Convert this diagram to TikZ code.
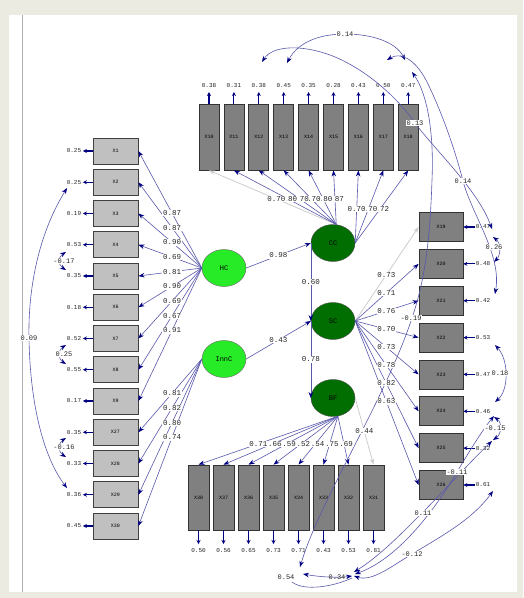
\documentclass[tikz,border=0pt]{standalone}
\usepackage{fontspec}
\setmonofont{Liberation Mono}
\usetikzlibrary{arrows.meta,shapes.geometric,calc}
\definecolor{bgbeige}{RGB}{236,235,226}
\definecolor{pathblue}{RGB}{88,88,172}
\definecolor{tipnavy}{RGB}{0,0,130}
\definecolor{ltbox}{RGB}{192,192,192}
\definecolor{dkbox}{RGB}{128,128,128}
\definecolor{ltgreen}{RGB}{40,235,40}
\definecolor{dkgreen}{RGB}{0,110,0}
\definecolor{fadeline}{RGB}{205,205,205}
\definecolor{framegrey}{RGB}{175,175,175}
\tikzset{
  tipA/.tip={Stealth[length=6pt,width=4.5pt,color=tipnavy]},
  tipG/.tip={Stealth[length=6pt,width=4.5pt,color=fadeline]},
}
\begin{document}
\begin{tikzpicture}[x=1pt,y=-1pt,
  lbox/.style={draw=black!75,fill=ltbox,line width=0.8pt,minimum width=45pt,minimum height=26pt,inner sep=0pt,font=\ttfamily\fontsize{5}{5}\selectfont},
  tbox/.style={draw=black!80,fill=dkbox,line width=0.8pt,minimum width=20pt,minimum height=66pt,inner sep=0pt,font=\ttfamily\fontsize{5}{5}\selectfont},
  rbox/.style={draw=black!80,fill=dkbox,line width=0.8pt,minimum width=44pt,minimum height=29pt,inner sep=0pt,font=\ttfamily\fontsize{5}{5}\selectfont},
  bbox/.style={draw=black!80,fill=dkbox,line width=0.8pt,minimum width=21pt,minimum height=65pt,inner sep=0pt,font=\ttfamily\fontsize{5}{5}\selectfont},
  exo/.style={ellipse,draw=black!60,fill=ltgreen,minimum width=44pt,minimum height=37pt,inner sep=0pt,font=\ttfamily\fontsize{7}{7}\selectfont},
  endo/.style={ellipse,draw=black!70,fill=dkgreen,minimum width=44pt,minimum height=37pt,inner sep=0pt,font=\ttfamily\fontsize{7}{7}\selectfont},
  load/.style={draw=pathblue,line width=0.6pt,-tipA},
  faint/.style={draw=fadeline,line width=0.8pt,-tipG},
  errarr/.style={draw=tipnavy,line width=1.1pt,-{Stealth[length=4pt,width=4pt,color=tipnavy]}},
  cov/.style={draw=pathblue,line width=0.6pt,tipA-tipA},
  coef/.style={fill=white,inner sep=0.6pt,font=\ttfamily\fontsize{7.5}{7.5}\selectfont,text=black!85},
  covlab/.style={fill=white,inner sep=0.8pt,font=\ttfamily\fontsize{7}{7}\selectfont,text=black!85},
  errlab/.style={inner sep=0pt,font=\ttfamily\fontsize{6}{6}\selectfont,text=black!85},
]
\useasboundingbox (0,0) rectangle (523,598);
\fill[bgbeige] (0,0) rectangle (523,598);
\fill[white] (9,15) rectangle (517,592);
\draw[framegrey,line width=1pt] (22,15) -- (22,592);

% ---------- observed variables ----------
\foreach \n/\y/\e in {1/151/0.25, 2/182.25/0.25, 3/213.5/0.19, 4/244.75/0.53, 5/276/0.35, 6/307.25/0.18, 7/338.5/0.52, 8/369.75/0.55, 9/401/0.17, 27/432.25/0.35, 28/463.5/0.33, 29/494.75/0.36, 30/526/0.45}{
  \node[lbox] (X\n) at (115.5,\y) {X\n};
  \node[errlab] (EL\n) at (74,\y) {\e};
  \draw[errarr] (X\n.west) -- ([xshift=1.5pt]EL\n.east);
}
\foreach \n/\x/\e in {10/209/0.38, 11/233.9/0.31, 12/258.8/0.38, 13/283.7/0.45, 14/308.6/0.35, 15/333.5/0.28, 16/358.4/0.43, 17/383.3/0.50, 18/408.2/0.47}{
  \node[tbox] (X\n) at (\x,137) {X\n};
  \node[errlab] (ET\n) at (\x,86) {\e};
  \draw[errarr] (X\n.north) -- (\x,92);
}
\foreach \n/\y/\e in {19/227/0.47, 20/263.9/0.48, 21/300.7/0.42, 22/337.6/0.53, 23/374.4/0.47, 24/411.3/0.46, 25/448.1/0.32, 26/485/0.61}{
  \node[rbox] (X\n) at (441,\y) {X\n};
  \node[errlab] (ER\n) at (483,\y) {\e};
  \draw[errarr] ([xshift=-1pt]ER\n.west) -- (X\n.east);
}
\foreach \n/\x/\e in {38/198.5/0.50, 37/223.5/0.56, 36/248.5/0.65, 35/273.5/0.73, 34/298.5/0.71, 33/323.5/0.43, 32/348.5/0.53, 31/373.5/0.81}{
  \node[bbox] (X\n) at (\x,497.5) {X\n};
  \node[errlab] (EB\n) at (\x,551) {\e};
  \draw[errarr] (X\n.south) -- (\x,544);
}

% ---------- latent variables ----------
\node[exo] (HC) at (224,268) {HC};
\node[exo] (InnC) at (224,359) {InnC};
\node[endo] (CC) at (333,243) {CC};
\node[endo] (SC) at (333,321) {SC};
\node[endo] (BF) at (333,398) {BF};

% ---------- loadings ----------
\foreach \n in {1,...,9} \draw[load] (HC.west) -- (X\n.east);
\foreach \n in {27,...,30} \draw[load] (InnC.west) -- (X\n.east);
\draw[faint] (CC.80) -- (X10.south);
\foreach \n in {11,...,15} \draw[load] (CC.80) -- (X\n.south);
\foreach \n in {16,17,18} \draw[load] (CC.east) -- (X\n.south);
\draw[faint] (SC.east) -- (X19.west);
\foreach \n in {20,...,26} \draw[load] (SC.east) -- (X\n.west);
\foreach \n in {32,...,38} \draw[load] (BF.285) -- (X\n.north);
\draw[faint] (BF.east) -- (X31.north);

% ---------- structural paths ----------
\draw[load] (HC.east) -- (CC.west);
\draw[load] (InnC.east) -- (SC.west);
\draw[load] (CC.west) -- (SC.west);
\draw[load] (SC.west) -- (BF.west);

% ---------- error covariances ----------
\draw[cov] (67,188) .. controls (38,235) and (28,290) .. (29,338) .. controls (30,400) and (42,455) .. (67,488);
\draw[cov] (66,252) .. controls (58,257) and (58,265) .. (66,270);
\draw[cov] (66,345) .. controls (58,350) and (58,359) .. (66,364);
\draw[cov] (66,438) .. controls (58,443) and (58,452) .. (66,457);

\draw[cov] (287,63) .. controls (298,42) and (320,34) .. (345,34) .. controls (372,34) and (396,42) .. (405,60);
\draw[cov] (262,62) .. controls (272,46) and (300,44) .. (330,55) .. controls (365,68) and (398,98) .. (415,123) .. controls (435,150) and (478,190) .. (492,229);
\draw[cov] (387,60) .. controls (400,52) and (414,58) .. (426,80) .. controls (442,112) and (455,150) .. (463,181) .. controls (472,215) and (502,255) .. (495,294);
\draw[cov] (412,72) .. controls (428,95) and (434,135) .. (432,180) .. controls (430,240) and (425,280) .. (412,318) .. controls (385,400) and (320,500) .. (300,567);

\draw[cov] (493,237) .. controls (501,243) and (501,255) .. (494,262);
\draw[cov] (495,345) .. controls (509,360) and (509,390) .. (495,402);
\draw[cov] (494,417) .. controls (502,422) and (502,434) .. (493,440);

\draw[cov] (354,576) .. controls (372,582) and (392,566) .. (412,554) .. controls (440,537) and (472,520) .. (493,491);
\draw[cov] (354,572) .. controls (380,556) and (405,530) .. (422,513) .. controls (440,495) and (470,462) .. (492,441);
\draw[cov] (355,574) .. controls (395,560) and (432,515) .. (457,472) .. controls (470,450) and (484,428) .. (494,416);
\draw[cov] (303,574) .. controls (320,577) and (338,578) .. (352,576);
\draw[draw=pathblue,line width=0.6pt] (292,582) .. controls (305,592) and (335,586) .. (352,578);

% ---------- coefficient labels ----------
\foreach \n/\v in {1/0.87, 2/0.87, 3/0.90, 4/0.69, 5/0.81, 6/0.90, 7/0.69, 8/0.67, 9/0.91}
  \node[coef] at ($(HC.west)!0.47!(X\n.east)$) {\v};
\foreach \n/\v in {27/0.81, 28/0.82, 29/0.80, 30/0.74}
  \node[coef] at ($(InnC.west)!0.47!(X\n.east)$) {\v};
\foreach \n/\v in {15/0.87, 14/0.80, 13/0.70, 12/0.70, 11/0.80}
  \node[coef] at ($(CC.80)!0.47!(X\n.south)$) {\v};
\node[coef] at ($(CC.80)!0.47!(X10.south)$) {0.70};
\foreach \n/\v in {18/0.72, 17/0.70, 16/0.70}
  \node[coef] at ($(CC.east)!0.47!(X\n.south)$) {\v};
\foreach \n/\v in {19/0.73, 20/0.71, 21/0.76, 22/0.70, 23/0.73, 24/0.78, 25/0.82, 26/0.63}
  \node[coef] at ($(SC.east)!0.49!(X\n.west)$) {\v};
\node[coef] at ($(BF.east)!0.5!(X31.north)$) {0.44};
\foreach \n/\v in {32/0.69, 33/0.75, 34/0.54, 35/0.52, 36/0.59, 37/0.66, 38/0.71}
  \node[coef] at ($(BF.285)!0.57!(X\n.north)$) {\v};

\node[coef] at ($(HC.east)!0.5!(CC.west)$) {0.98};
\node[coef] at ($(InnC.east)!0.5!(SC.west)$) {0.43};
\node[coef] at ($(CC.west)!0.5!(SC.west)$) {0.60};
\node[coef] at ($(SC.west)!0.5!(BF.west)$) {0.78};

\node[covlab] at (29,338) {0.09};
\node[covlab] at (64,261) {-0.17};
\node[covlab] at (64,354) {0.25};
\node[covlab] at (64,447) {-0.16};
\node[covlab] at (345,34) {0.14};
\node[covlab] at (415,123) {0.13};
\node[covlab] at (463,181) {0.14};
\node[covlab] at (411,318) {-0.19};
\node[covlab] at (494,247) {0.26};
\node[covlab] at (500,373) {0.18};
\node[covlab] at (495,428) {-0.15};
\node[covlab] at (457,472) {-0.11};
\node[covlab] at (423,513) {0.11};
\node[covlab] at (412,554) {-0.12};
\node[covlab] at (286,577) {0.54};
\node[covlab,fill=none] at (337,577) {0.34};
\end{tikzpicture}
\end{document}
